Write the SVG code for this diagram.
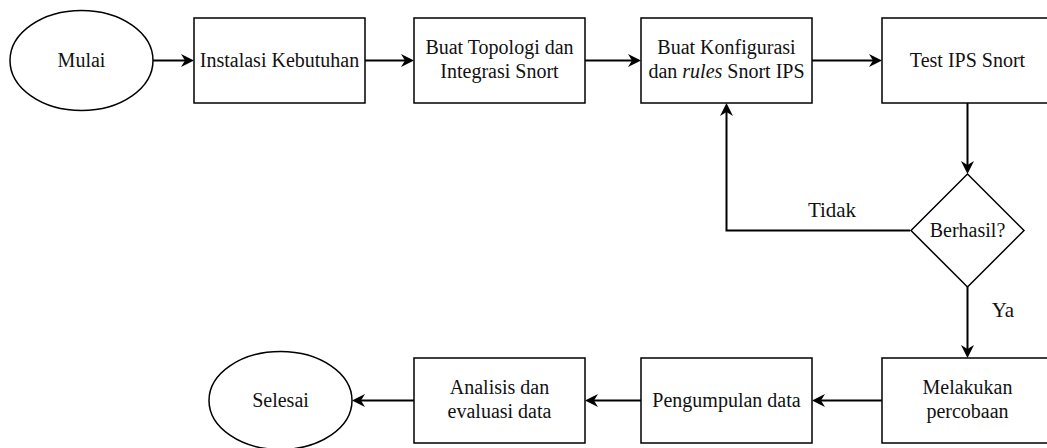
<svg xmlns="http://www.w3.org/2000/svg" width="1047" height="448" viewBox="0 0 1047 448">
<style>
.shape{fill:#fff;stroke:#000;stroke-width:1.5}
.conn{fill:none;stroke:#000;stroke-width:2}
.t{font-family:"Liberation Serif","Times New Roman",serif;font-size:20px;fill:#111;text-anchor:middle}
.lbl{font-family:"Liberation Serif","Times New Roman",serif;font-size:21px;fill:#111;text-anchor:middle}
</style>
<defs>
<marker id="arr" viewBox="0 0 14 14" markerWidth="14" markerHeight="14" refX="4" refY="7" markerUnits="userSpaceOnUse" orient="auto">
<path d="M0,0.5 L13,7 L0,13.5 L4,7 Z" fill="#000"/>
</marker>
</defs>
<rect width="1047" height="448" fill="#fff"/>
<g id="connectors">
<path class="conn" d="M153,60.5 H185" marker-end="url(#arr)"/>
<path class="conn" d="M365,60.5 H405" marker-end="url(#arr)"/>
<path class="conn" d="M585,60.5 H632" marker-end="url(#arr)"/>
<path class="conn" d="M812,60.5 H873" marker-end="url(#arr)"/>
<path class="conn" d="M967.5,103 V165" marker-end="url(#arr)"/>
<path class="conn" d="M910,230.5 H726.5 V112" marker-end="url(#arr)"/>
<path class="conn" d="M967.5,287 V349" marker-end="url(#arr)"/>
<path class="conn" d="M882,400.5 H821" marker-end="url(#arr)"/>
<path class="conn" d="M641,400.5 H594" marker-end="url(#arr)"/>
<path class="conn" d="M414,400.5 H361" marker-end="url(#arr)"/>
<text class="lbl" x="832" y="217">Tidak</text>
<text class="lbl" x="1003" y="317">Ya</text>
</g>
<g id="mulai">
<ellipse class="shape" cx="81.5" cy="60.5" rx="71.5" ry="50"/>
<text class="t" x="81.5" y="67">Mulai</text>
</g>
<g id="instalasi">
<rect class="shape" x="194" y="18" width="171" height="85"/>
<text class="t" x="279.5" y="67">Instalasi Kebutuhan</text>
</g>
<g id="topologi">
<rect class="shape" x="414" y="18" width="171" height="85"/>
<text class="t" x="499.5" y="54">Buat Topologi dan</text>
<text class="t" x="499.5" y="78">Integrasi Snort</text>
</g>
<g id="konfigurasi">
<rect class="shape" x="641" y="18" width="171" height="85"/>
<text class="t" x="726.5" y="54">Buat Konfigurasi</text>
<text class="t" x="726.5" y="78">dan <tspan font-style="italic">rules</tspan> Snort IPS</text>
</g>
<g id="test">
<rect class="shape" x="882" y="18" width="171" height="85"/>
<text class="t" x="967.5" y="67">Test IPS Snort</text>
</g>
<g id="berhasil">
<polygon class="shape" points="967.5,174 1024,230.5 967.5,287 911,230.5"/>
<text class="t" x="967.5" y="237">Berhasil?</text>
</g>
<g id="melakukan">
<rect class="shape" x="882" y="358" width="171" height="85"/>
<text class="t" x="967.5" y="394">Melakukan</text>
<text class="t" x="967.5" y="418">percobaan</text>
</g>
<g id="pengumpulan">
<rect class="shape" x="641" y="358" width="171" height="85"/>
<text class="t" x="726.5" y="407">Pengumpulan data</text>
</g>
<g id="analisis">
<rect class="shape" x="414" y="358" width="171" height="85"/>
<text class="t" x="499.5" y="394">Analisis dan</text>
<text class="t" x="499.5" y="418">evaluasi data</text>
</g>
<g id="selesai">
<ellipse class="shape" cx="280.5" cy="400.5" rx="71.5" ry="49"/>
<text class="t" x="280.5" y="407">Selesai</text>
</g>
</svg>
